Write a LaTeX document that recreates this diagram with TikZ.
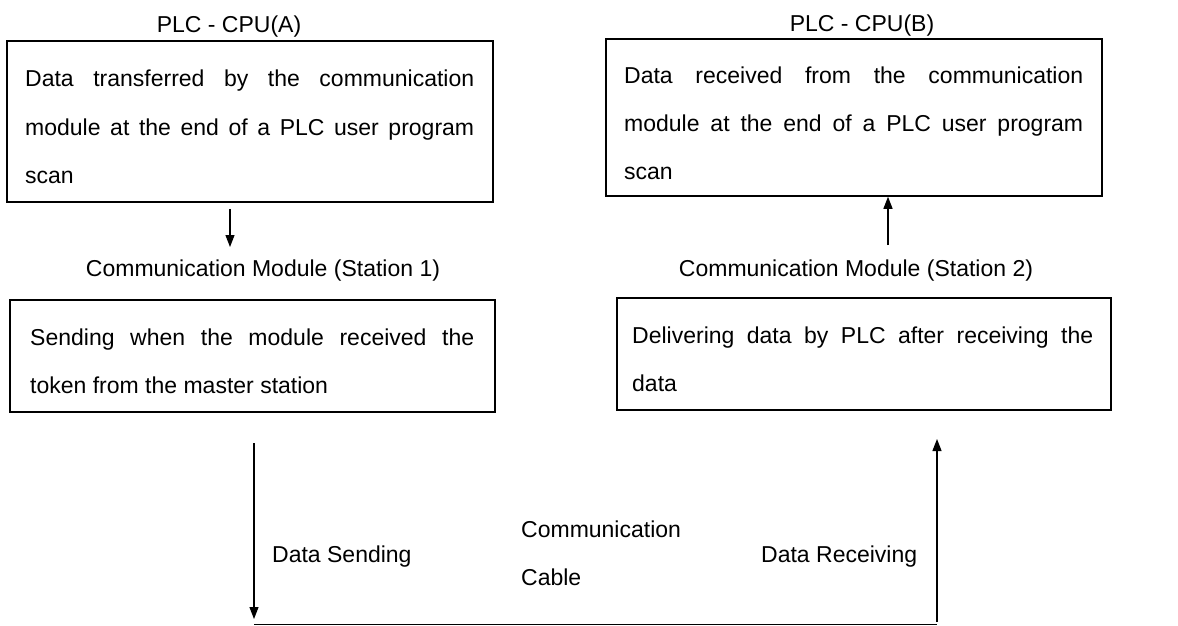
\documentclass[tikz,border=0pt]{standalone}
\usepackage{fontspec}
\setmainfont{Liberation Sans}
\usetikzlibrary{arrows.meta}
\tikzset{
  box/.style={draw, line width=1.5pt, rectangle, inner sep=0pt},
  txt/.style={anchor=base west, inner sep=0pt, font=\fontsize{23}{27}\selectfont},
  lbl/.style={anchor=base, inner sep=0pt, font=\fontsize{23}{27}\selectfont},
  conn/.style={line width=1.2pt},
  arr/.style={conn, -{Triangle[length=12pt,width=9pt]}}
}
\newcommand{\jl}[2]{\makebox[#1pt][s]{#2}}
\begin{document}
\begin{tikzpicture}[x=1pt,y=-1pt]
\useasboundingbox (0,0) rectangle (1178,626);
% boxes
\node[box, minimum width=486pt, minimum height=161pt] (A) at (250,121.5) {};
\node[box, minimum width=485pt, minimum height=112pt] (A2) at (252.5,356) {};
\node[box, minimum width=496pt, minimum height=157pt] (B) at (854,117.5) {};
\node[box, minimum width=494pt, minimum height=112pt] (B2) at (864,354) {};
% titles
\node[lbl] (tA) at (229,33) {PLC - CPU(A)};
\node[lbl] (tB) at (862,32) {PLC - CPU(B)};
\node[lbl] (m1) at (263,276) {Communication Module (Station 1)};
\node[lbl] (m2) at (856,276) {Communication Module (Station 2)};
% box A text
\node[txt] (a1) at (25,87) {\jl{449}{Data transferred by the communication}};
\node[txt] (a2) at (25,135) {\jl{449}{module at the end of a PLC user program}};
\node[txt] (a3) at (25,183) {scan};
% box B text
\node[txt] (b1) at (624,83) {\jl{459}{Data received from the communication}};
\node[txt] (b2) at (624,131) {\jl{459}{module at the end of a PLC user program}};
\node[txt] (b3) at (624,179) {scan};
% box A2 text
\node[txt] (c1) at (30,345) {\jl{444}{Sending when the module received the}};
\node[txt] (c2) at (30,393) {token from the master station};
% box B2 text
\node[txt] (d1) at (632,343) {\jl{461}{Delivering data by PLC after receiving the}};
\node[txt] (d2) at (632,391) {data};
% bottom labels
\node[txt] (ds) at (272,562) {Data Sending};
\node[txt] (cc1) at (521,537) {Communication};
\node[txt] (cc2) at (521,585) {Cable};
\node[txt] (dr) at (761,562) {Data Receiving};
% coordinates
\coordinate (pA) at (230,247);
\coordinate (pB) at (888,245);
\coordinate (l1) at (254,443);
\coordinate (l2) at (254,619);
\coordinate (h1) at (254,624.5);
\coordinate (h2) at (937,624.5);
\coordinate (r1) at (937,622);
\coordinate (r2) at (937,439);
% connectors
\draw[arr] (A.south -| pA) ++(0,6) -- (pA);
\draw[arr] (pB) -- (B.south -| pB);
\draw[arr] (l1) -- (l2);
\draw[conn] (h1) -- (h2);
\draw[arr] (r1) -- (r2);
\end{tikzpicture}
\end{document}
